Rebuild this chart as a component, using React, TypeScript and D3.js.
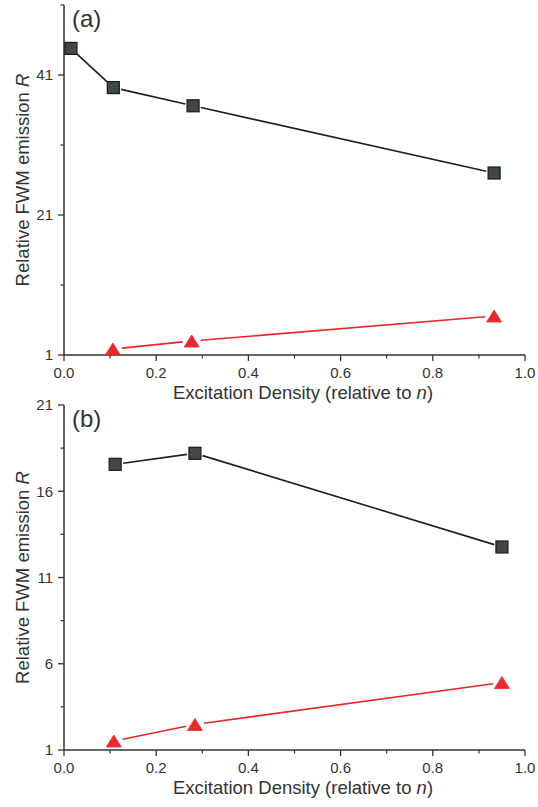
import React from "react";
import * as d3 from "d3";

const xTicks = [0, 0.2, 0.4, 0.6, 0.8, 1.0];
const xMinor = [0.1, 0.3, 0.5, 0.7, 0.9];

// Panel (a)
const aYTicks = [1, 21, 41];
const aYMinor = [11, 31, 51];
const aSqX = [0.015, 0.107, 0.28, 0.933];
const aSqY = [44.8, 39.2, 36.6, 27.0];
const aTriX = [0.106, 0.277, 0.933];
const aTriY = [1.85, 3.0, 6.57];

// Panel (b)
const bYTicks = [1, 6, 11, 16, 21];
const bYMinor = [3.5, 8.5, 13.5, 18.5];
const bSqX = [0.111, 0.284, 0.95];
const bSqY = [17.56, 18.2, 12.77];
const bTriX = [0.108, 0.284, 0.95];
const bTriY = [1.52, 2.48, 4.91];

const FONT = "'Liberation Sans', Arial, sans-serif";
const TXT = "#333";
const SQ_FILL = "#3f4a3e";
const RED = "#e8282c";

type PanelProps = {
  top: number;
  bottom: number;
  yDomain: [number, number];
  yTicks: number[];
  yMinor: number[];
  sqX: number[];
  sqY: number[];
  triX: number[];
  triY: number[];
  label: string;
};

const X0 = 64;
const X1 = 525;

function gappedSegments(pts: [number, number][], gap: number) {
  const segs: [number, number, number, number][] = [];
  for (let i = 0; i < pts.length - 1; i++) {
    const [x1, y1] = pts[i];
    const [x2, y2] = pts[i + 1];
    const dx = x2 - x1, dy = y2 - y1;
    const len = Math.hypot(dx, dy);
    const ux = dx / len, uy = dy / len;
    segs.push([x1 + ux * gap, y1 + uy * gap, x2 - ux * gap, y2 - uy * gap]);
  }
  return segs;
}

function Panel(p: PanelProps) {
  const x = d3.scaleLinear().domain([0, 1]).range([X0, X1]);
  const y = d3.scaleLinear().domain(p.yDomain).range([p.bottom, p.top]);
  const sqPts: [number, number][] = p.sqX.map((v, i) => [x(v), y(p.sqY[i])]);
  const triPts: [number, number][] = p.triX.map((v, i) => [x(v), y(p.triY[i])]);
  const sqSegs = gappedSegments(sqPts, 8);
  const triSegs = gappedSegments(triPts, 9);
  const sq = 12;
  const tw = 15, th = 12;
  const midY = (p.top + p.bottom) / 2;
  return (
    <g>
      {/* axes */}
      <line x1={X0} x2={X0} y1={p.top} y2={p.bottom} stroke={TXT} strokeWidth={1.5} />
      <line x1={X0} x2={X1} y1={p.bottom} y2={p.bottom} stroke={TXT} strokeWidth={1.5} />
      {p.yTicks.map((t) => (
        <g key={"yt" + t}>
          <line x1={X0 - 6} x2={X0} y1={y(t)} y2={y(t)} stroke={TXT} strokeWidth={1.3} />
          <text x={X0 - 11} y={y(t)} dy="0.36em" textAnchor="end" fontSize={15} fill={TXT} fontFamily={FONT}>
            {t}
          </text>
        </g>
      ))}
      {p.yMinor.map((t) => (
        <line key={"ym" + t} x1={X0 - 3.5} x2={X0} y1={y(t)} y2={y(t)} stroke={TXT} strokeWidth={1.2} />
      ))}
      {xTicks.map((t) => (
        <g key={"xt" + t}>
          <line x1={x(t)} x2={x(t)} y1={p.bottom} y2={p.bottom + 6} stroke={TXT} strokeWidth={1.3} />
          <text x={x(t)} y={p.bottom + 23} textAnchor="middle" fontSize={15} fill={TXT} fontFamily={FONT}>
            {t.toFixed(1)}
          </text>
        </g>
      ))}
      {xMinor.map((t) => (
        <line key={"xm" + t} x1={x(t)} x2={x(t)} y1={p.bottom} y2={p.bottom + 3.5} stroke={TXT} strokeWidth={1.2} />
      ))}
      <text x={303} y={p.bottom + 44} textAnchor="middle" fontSize={18.5} fill={TXT} fontFamily={FONT}>
        Excitation Density (relative to <tspan fontStyle="italic">n</tspan>)
      </text>
      <text
        transform={`translate(29,${midY}) rotate(-90)`}
        textAnchor="middle"
        fontSize={18.5}
        fill={TXT}
        fontFamily={FONT}
      >
        Relative FWM emission <tspan fontStyle="italic">R</tspan>
      </text>
      <text x={72} y={p.top + 22} fontSize={24} fill={TXT} fontFamily={FONT}>
        {p.label}
      </text>
      {/* lines */}
      {sqSegs.map((s, i) => (
        <line key={"ss" + i} x1={s[0]} y1={s[1]} x2={s[2]} y2={s[3]} stroke="#1e1e1e" strokeWidth={1.6} />
      ))}
      {triSegs.map((s, i) => (
        <line key={"ts" + i} x1={s[0]} y1={s[1]} x2={s[2]} y2={s[3]} stroke={RED} strokeWidth={1.6} />
      ))}
      {/* markers */}
      {sqPts.map(([cx, cy], i) => (
        <rect key={"sq" + i} x={cx - sq / 2} y={cy - sq / 2} width={sq} height={sq} fill={SQ_FILL} stroke="#1a1a1a" strokeWidth={1.2} />
      ))}
      {triPts.map(([cx, cy], i) => (
        <path
          key={"tr" + i}
          d={`M${cx},${cy - th / 2} L${cx + tw / 2},${cy + th / 2} L${cx - tw / 2},${cy + th / 2} Z`}
          fill={RED}
          stroke={RED}
          strokeWidth={0.8}
          strokeLinejoin="round"
        />
      ))}
    </g>
  );
}

export default function App() {
  return (
    <svg width={538} height={807} style={{ position: "absolute", left: 0, top: 0, background: "#fff" }}>
      <rect width={538} height={807} fill="#fff" />
      <Panel
        top={5}
        bottom={355}
        yDomain={[1, 51]}
        yTicks={aYTicks}
        yMinor={aYMinor}
        sqX={aSqX}
        sqY={aSqY}
        triX={aTriX}
        triY={aTriY}
        label="(a)"
      />
      <Panel
        top={405}
        bottom={750}
        yDomain={[1, 21]}
        yTicks={bYTicks}
        yMinor={bYMinor}
        sqX={bSqX}
        sqY={bSqY}
        triX={bTriX}
        triY={bTriY}
        label="(b)"
      />
    </svg>
  );
}
